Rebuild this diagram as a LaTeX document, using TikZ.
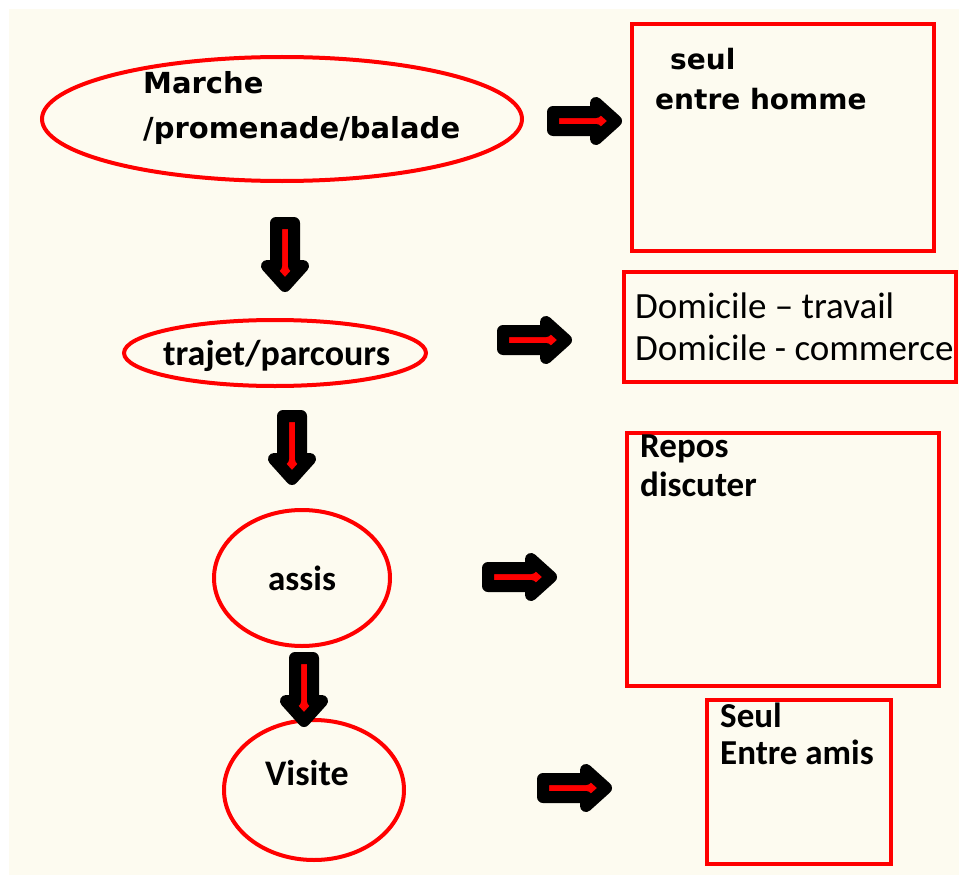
\documentclass[tikz,border=0pt]{standalone}
\usepackage{fontspec}
\usetikzlibrary{shapes.geometric}
\newfontfamily\dejavu{DejaVu Sans}
\newfontfamily\carl{Carlito}
\definecolor{cream}{RGB}{253,251,240}
\begin{document}
\begin{tikzpicture}[x=1pt,y=-1pt,
  oval/.style={ellipse,draw=red,line width=4,inner sep=0},
  frame/.style={draw=red,line width=4},
  lblA/.style={anchor=base west,inner sep=0,font=\dejavu\bfseries\fontsize{29}{35}\selectfont},
  lblB/.style={anchor=base west,inner sep=0,font=\dejavu\bfseries\fontsize{28}{34}\selectfont},
  lblC/.style={anchor=base west,inner sep=0,font=\carl\bfseries\fontsize{35}{40}\selectfont},
  lblE/.style={anchor=base west,inner sep=0,font=\carl\bfseries\fontsize{36}{40}\selectfont},
  lblD/.style={anchor=base west,inner sep=0,font=\carl\fontsize{37}{40}\selectfont},
  barrow/.pic={\draw[line width=12,line join=round,fill=red] (0,-9) -- (43,-9) -- (43,-18) -- (63,0) -- (43,18) -- (43,9) -- (0,9) -- cycle;}]
\useasboundingbox (0,0) rectangle (959,875);
\fill[white] (0,0) rectangle (959,875);
\fill[cream] (9,9) rectangle (959,875);
% ellipses
\node[oval,minimum width=480,minimum height=124] (e1) at (282,119) {};
\node[oval,minimum width=302,minimum height=66] (e2) at (275,353) {};
\node[oval,minimum width=176,minimum height=136] (e3) at (302,578) {};
\node[oval,minimum width=180,minimum height=140] (e4) at (314,790) {};
% boxes
\draw[frame] (632,24) rectangle (934,251);
\draw[frame] (624,272) rectangle (956,382);
\draw[frame] (627,433) rectangle (939,686);
\draw[frame] (707,700) rectangle (891,864);
% texts
\node[lblA] (t1) at (143,93) {Marche};
\node[lblA] (t2) at (143,138) {/promenade/balade};
\node[lblB] (t3) at (670,70) {seul};
\node[lblB] (t4) at (655,110) {entre homme};
\node[lblD] (t5) at (635,318) {Domicile – travail};
\node[lblD] (t6) at (635,360) {Domicile - commerce};
\node[lblE] (t7) at (163,365) {trajet/parcours};
\node[lblC] (t8) at (268,590) {assis};
\node[lblC] (t9) at (640,457) {Repos};
\node[lblC] (t10) at (640,496) {discuter};
\node[lblC] (t11) at (720,727) {Seul};
\node[lblC] (t12) at (720,764) {Entre amis};
\node[lblE] (t13) at (265,785) {Visite};
% block arrows
\pic (r1) at (553,121) {barrow};
\pic (r2) at (503,340) {barrow};
\pic (r3) at (488,577) {barrow};
\pic (r4) at (543,788) {barrow};
\pic[rotate=-90] (d1) at (285,223) {barrow};
\pic[rotate=-90] (d2) at (292,416) {barrow};
\pic[rotate=-90] (d3) at (304,658) {barrow};
\end{tikzpicture}
\end{document}
